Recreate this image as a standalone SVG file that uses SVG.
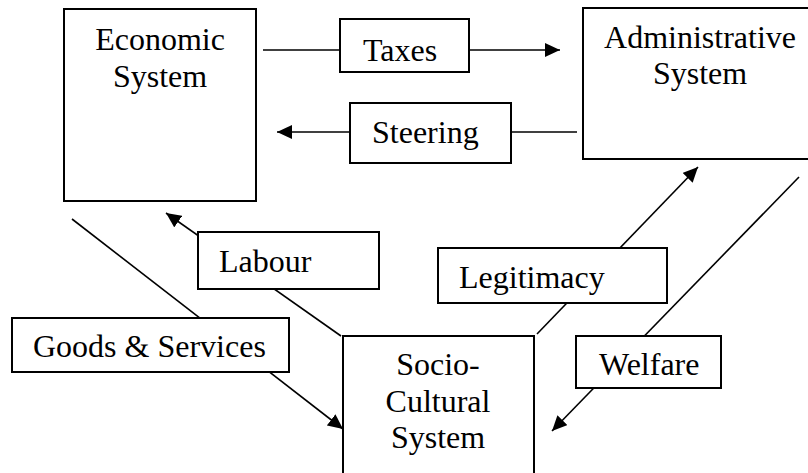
<svg xmlns="http://www.w3.org/2000/svg" width="808" height="473" viewBox="0 0 808 473">
  <defs>
    <marker id="arrow" viewBox="0 0 15 14" refX="15" refY="7" markerWidth="15" markerHeight="14" markerUnits="userSpaceOnUse" orient="auto">
      <path d="M0,0 L15,7 L0,14 z" fill="#000"/>
    </marker>
    <style>
      .box { fill: #fff; stroke: #000; stroke-width: 2; }
      .conn { fill: none; stroke: #000; stroke-width: 1.6; }
      .arr { marker-end: url(#arrow); }
      .t { font-family: 'Liberation Serif', 'DejaVu Serif', serif; font-size: 32px; fill: #000; }
      .c { text-anchor: middle; }
    </style>
  </defs>
  <rect width="808" height="473" fill="#fff"/>
  <g id="connectors">
    <line class="conn arr" x1="263" y1="50" x2="560" y2="50"/>
    <line class="conn arr" x1="577" y1="132" x2="277" y2="132"/>
    <line class="conn arr" x1="341" y1="336" x2="166" y2="213"/>
    <line class="conn arr" x1="72" y1="219" x2="343" y2="429"/>
    <line class="conn arr" x1="537" y1="334" x2="698" y2="167"/>
    <line class="conn arr" x1="799" y1="177" x2="552" y2="431"/>
  </g>
  <g class="t" font-family="Liberation Serif, DejaVu Serif, serif">
  <g id="economic">
    <rect class="box" x="64" y="9" width="192" height="192"/>
    <text class="c" x="160" y="50">Economic</text>
    <text class="c" x="160" y="87">System</text>
  </g>
  <g id="administrative">
    <rect class="box" x="583" y="8" width="234" height="151"/>
    <text class="c" x="700" y="48">Administrative</text>
    <text class="c" x="700" y="84">System</text>
  </g>
  <g id="sociocultural">
    <rect class="box" x="343" y="336" width="191" height="140"/>
    <text class="c" x="438" y="375">Socio-</text>
    <text class="c" x="438" y="412">Cultural</text>
    <text class="c" x="438" y="448">System</text>
  </g>
  <g id="taxes">
    <rect class="box" x="340" y="19" width="129" height="53"/>
    <text x="363" y="61">Taxes</text>
  </g>
  <g id="steering">
    <rect class="box" x="350" y="103" width="161" height="60"/>
    <text x="372" y="143">Steering</text>
  </g>
  <g id="labour">
    <rect class="box" x="198" y="232" width="181" height="57"/>
    <text x="219" y="272">Labour</text>
  </g>
  <g id="goods">
    <rect class="box" x="12" y="318" width="277" height="54"/>
    <text x="33" y="357">Goods &amp; Services</text>
  </g>
  <g id="legitimacy">
    <rect class="box" x="438" y="248" width="229" height="55"/>
    <text x="459" y="288">Legitimacy</text>
  </g>
  <g id="welfare">
    <rect class="box" x="576" y="336" width="145" height="52"/>
    <text x="599" y="375">Welfare</text>
  </g>
  </g>
</svg>
